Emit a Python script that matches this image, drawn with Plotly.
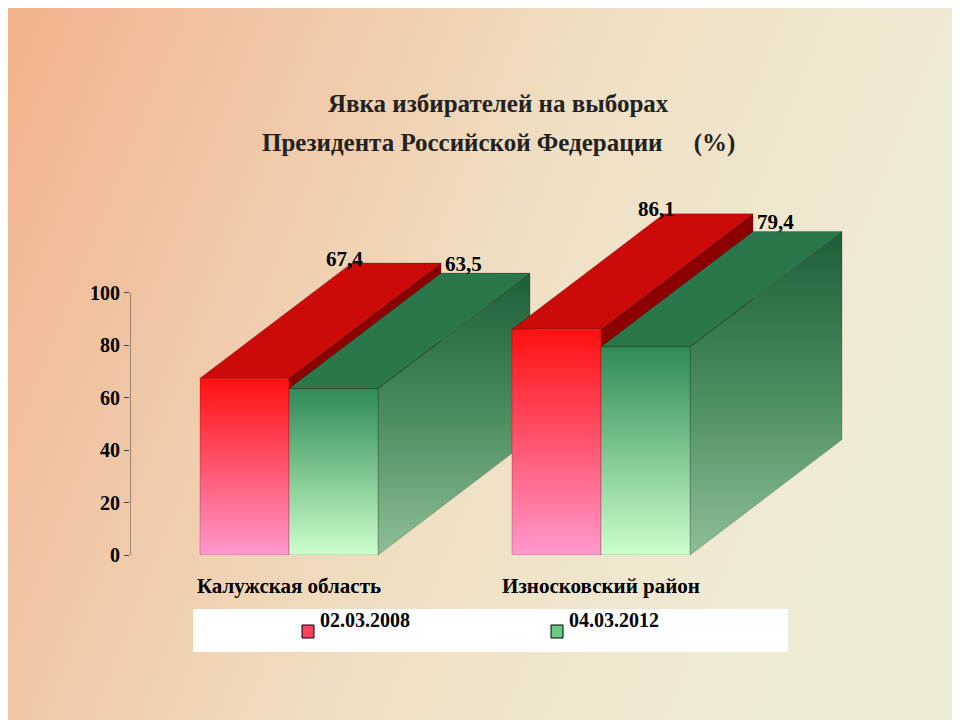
import plotly.graph_objects as go
import base64

categories = ["Калужская область", "Износковский район"]
series_names = ["02.03.2008", "04.03.2012"]
values_2008 = [67.4, 86.1]
values_2012 = [63.5, 79.4]
value_labels_2008 = ["67,4", "86,1"]
value_labels_2012 = ["63,5", "79,4"]
y_ticks = [0, 20, 40, 60, 80, 100]

FONT = "Liberation Serif"
BW = 89
DX, DY = 152, 44
starts = [70, 382]
YMAX = 135

fig = go.Figure()

def poly(xs, ys, color=None, grad=None):
    kw = dict(x=xs + [xs[0]], y=ys + [ys[0]], mode="lines", fill="toself",
              line=dict(width=0.6, color="rgba(0,0,0,0.35)"), hoverinfo="skip", showlegend=False)
    if grad:
        kw["fillgradient"] = dict(type="vertical", colorscale=grad)
    else:
        kw["fillcolor"] = color
    fig.add_trace(go.Scatter(**kw))

for i, x0 in enumerate(starts):
    v1, v2 = values_2008[i], values_2012[i]
    r0, r1 = x0, x0 + BW
    g0, g1 = r1, r1 + BW
    poly([r1, r1 + DX, r1 + DX, r1], [v1, v1 + DY, DY, 0], color="#8b0000")
    poly([r0, r1, r1 + DX, r0 + DX], [v1, v1, v1 + DY, v1 + DY], color="#cc0a0a")
    poly([r0, r1, r1, r0], [0, 0, v1, v1], grad=[[0, "#ff99cc"], [1, "#ff1010"]])
    poly([g1, g1 + DX, g1 + DX, g1], [0, DY, v2 + DY, v2], grad=[[0, "#8fbf98"], [0.5, "#4a8c5e"], [1, "#1d5e3a"]])
    poly([g0, g1, g1 + DX, g0 + DX], [v2, v2, v2 + DY, v2 + DY], color="#2a774a")
    poly([g0, g1, g1, g0], [0, 0, v2, v2], grad=[[0, "#ccffcc"], [1, "#2e8b57"]])
    fig.add_annotation(x=r0 + BW / 2 + 100, yref="paper", y=(v1 + DY + 7) / YMAX, text="<b>%s</b>" % value_labels_2008[i],
                       showarrow=False, font=dict(family=FONT, size=21, color="black"))
    fig.add_annotation(x=g0 + BW / 2 + 130, yref="paper", y=(v2 + DY + 9) / YMAX, text="<b>%s</b>" % value_labels_2012[i],
                       showarrow=False, font=dict(family=FONT, size=21, color="black"))

fig.add_trace(go.Scatter(x=[0, 0], y=[0, 100], mode="lines", line=dict(color="#444", width=1),
                         hoverinfo="skip", showlegend=False))

svg = ('<svg xmlns="http://www.w3.org/2000/svg" width="960" height="720"><defs>'
       '<linearGradient id="g" x1="0" y1="0" x2="1" y2="0.3">'
       '<stop offset="0" stop-color="#f2b28c"/><stop offset="0.6" stop-color="#efe0c4"/>'
       '<stop offset="1" stop-color="#efecd6"/></linearGradient></defs>'
       '<rect width="960" height="720" fill="url(#g)"/></svg>')
uri = "data:image/svg+xml;base64," + base64.b64encode(svg.encode()).decode()

fig.update_layout(
    width=952, height=712, margin=dict(l=122, r=110, t=193, b=165),
    paper_bgcolor="#f0dcc0", plot_bgcolor="rgba(0,0,0,0)", showlegend=False,
    images=[dict(source=uri, xref="paper", yref="paper", x=-122/720, y=1 + 193/354,
                 sizex=952/720, sizey=712/354, sizing="stretch", layer="below")],
    xaxis=dict(range=[0, 720], showgrid=False, zeroline=False, showline=False,
               tickvals=[starts[0] + BW, starts[1] + BW], ticktext=["<b>%s</b>" % c for c in categories],
               tickfont=dict(family=FONT, size=21, color="black"), ticklen=0, ticks=""),
    yaxis=dict(range=[0, YMAX], showgrid=False, zeroline=False, showline=False,
               tickvals=y_ticks, ticktext=["<b>%d</b>" % t for t in y_ticks], ticks="outside", ticklen=5, tickcolor="#444",
               tickfont=dict(family=FONT, size=20, color="black")),
)
fig.update_xaxes(ticklabelstandoff=16)

# image coords -> paper (plot area spans px 130..850, 201..555 in the screenshot)
def px2p(px, py):
    return (px - 130) / 720, (555 - py) / 354

for i, t in enumerate(["<b>Явка избирателей на выборах</b>",
                       "<b>Президента Российской Федерации     (%)</b>"]):
    tx, ty = px2p(498, 88 + 39 * i)
    fig.add_annotation(xref="paper", yref="paper", x=tx, y=ty,
                       text=t, showarrow=False, font=dict(family=FONT, size=25, color="#222"))

x0p, y0p = px2p(193, 652); x1p, y1p = px2p(788, 609)
fig.add_shape(type="rect", xref="paper", yref="paper", x0=x0p, x1=x1p, y0=y0p, y1=y1p,
              fillcolor="white", line=dict(width=0))
for name, col, lx in [(series_names[0], "#ff4060", 302), (series_names[1], "#66cc88", 551)]:
    a0, b0 = px2p(lx, 638); a1, b1 = px2p(lx + 12, 625)
    fig.add_shape(type="rect", xref="paper", yref="paper", x0=a0, x1=a1, y0=b0, y1=b1,
                  fillcolor=col, line=dict(color="black", width=1))
    tx, ty = px2p(lx + 16, 633)
    fig.add_annotation(xref="paper", yref="paper", x=tx, y=ty, xanchor="left", text="<b>%s</b>" % name,
                       showarrow=False, font=dict(family=FONT, size=20, color="black"))

fig.write_html("out.html")
